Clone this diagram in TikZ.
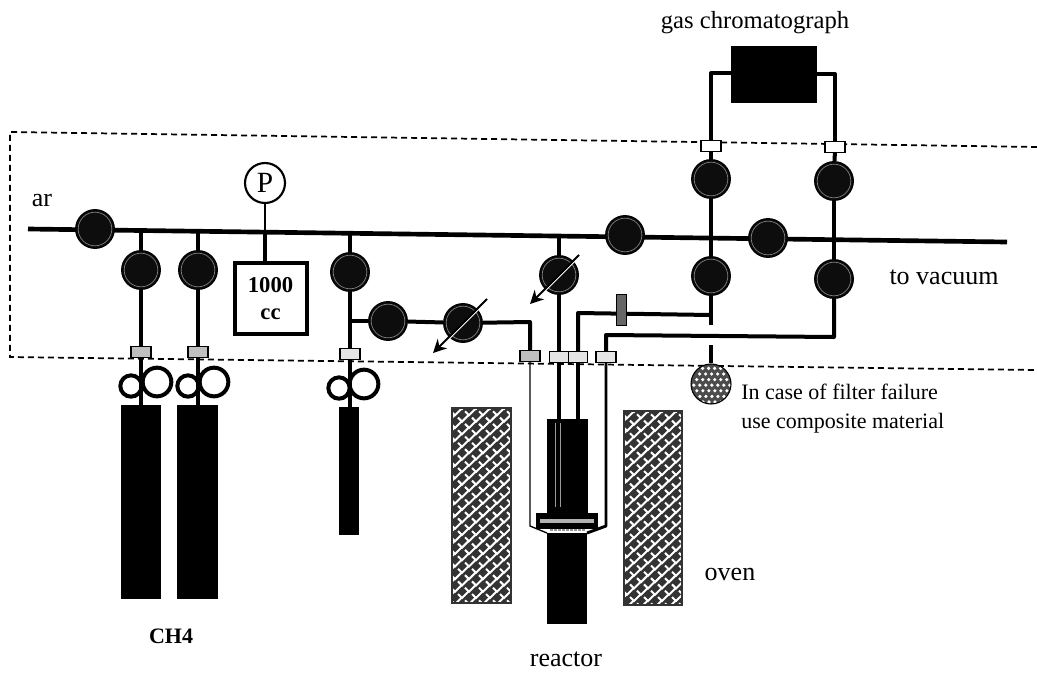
\documentclass[tikz,border=0pt]{standalone}
\usepackage{fontspec}
\setmainfont{Liberation Serif}
\usetikzlibrary{backgrounds,arrows.meta}
\tikzset{
 pipe/.style={draw=black,line width=3pt,line join=round},
 mainpipe/.style={draw=black,line width=3.5pt},
 thinpipe/.style={draw=black,line width=1pt},
 border/.style={draw=black,line width=1.3pt,dash pattern=on 4.5pt off 3pt},
 valve/.style={circle,fill=black!95,draw=black,line width=.9pt,minimum size=29pt,inner sep=0pt,
   path picture={\draw[black!50,line width=.5pt] (path picture bounding box.center) circle (12.6pt);}},
 fitting/.style={rectangle,draw=black,line width=1.1pt,fill=black!25,minimum width=15pt,minimum height=8pt,inner sep=0pt},
 regsmall/.style={circle,draw=black,line width=3pt,minimum size=16pt,inner sep=0pt},
 regbig/.style={circle,draw=black,line width=3pt,minimum size=21.5pt,inner sep=0pt},
 solid block/.style={rectangle,fill=black,draw=black,inner sep=0pt,anchor=north west},
 lbl/.style={font=\fontsize{19.5pt}{22pt}\selectfont,inner sep=0pt},
 smalllbl/.style={inner sep=0pt,anchor=west,font=\fontsize{16.5pt}{18pt}\selectfont},
 throughline/.style={draw=black,line width=1.5pt,-{Stealth[length=10pt,width=10pt]}},
 throughwhite/.style={draw=white,line width=.8pt},
}
% oven block with woven hatching: x1,y1,x2,y2
\newcommand{\ovenblock}[4]{%
 \begin{scope}
  \clip (#1,#2) rectangle (#3,#4);
  \fill[black!80] (#1,#2) rectangle (#3,#4);
  \foreach \r in {0,...,34}{
   \foreach \c in {0,...,6}{
    \pgfmathsetmacro{\px}{#1+\c*14+mod(\r,2)*7-4}
    \pgfmathsetmacro{\py}{#2+\r*6.3+1}
    \draw[white,line width=1.5pt,line cap=butt,line join=miter] (\px-4,\py-4) -- (\px,\py) -- (\px+7,\py-7);
   }
  }
 \end{scope}
 \draw[black!80,line width=1pt] (#1,#2) rectangle (#3,#4);
}
\begin{document}
\begin{tikzpicture}[x=0.75pt,y=-0.75pt]
\useasboundingbox (0,0) rectangle (1037,675);
\begin{scope}[on background layer]
\fill[white] (0,0) rectangle (1037,675);
\end{scope}

% enclosure (dashed)
\coordinate (bTR) at (1037,147);
\coordinate (bTL) at (10,132);
\coordinate (bBL) at (10,357);
\coordinate (bBR) at (1037,370);
\draw[border] (bTR) -- (bTL) -- (bBL) -- (bBR);

% main line end points and junctions
\coordinate (mainL) at (28,229);
\coordinate (mainR) at (1007,242);
\coordinate (j1) at (141,230.5);
\coordinate (j2) at (198,231);
\coordinate (jp) at (265,232);
\coordinate (j3) at (350,233);
\coordinate (j4) at (559,236);
\coordinate (j5) at (711,238);
\coordinate (j6) at (834,240);

% valves
\node[valve] (vAr) at (95,229) {};
\node[valve] (v1) at (141,270) {};
\node[valve] (v2) at (198,270) {};
\node[valve] (v3) at (350,272) {};
\node[valve] (v4) at (388,321) {};
\node[valve] (v5) at (463,323) {};
\node[valve] (v6) at (559,275) {};
\node[valve] (v7) at (625,235) {};
\node[valve] (v8) at (768,238) {};
\node[valve] (vGa) at (711,179) {};
\node[valve] (vGb) at (834,181) {};
\node[valve] (vLa) at (711,276) {};
\node[valve] (vLb) at (834,279) {};

% pressure gauge and vessel
\node[circle,draw=black,line width=1.6pt,fill=white,minimum size=30pt,inner sep=0pt,font=\fontsize{22pt}{24pt}\selectfont] (gauge) at (265,183) {P};
\node[rectangle,draw=black,line width=3pt,fill=white,minimum width=54pt,minimum height=53pt,inner sep=0pt,align=center,font=\fontsize{17pt}{20.5pt}\selectfont\bfseries] (vessel) at (270.5,298.5) {1000\\cc};

% gas chromatograph
\node[rectangle,fill=black,draw=black,minimum width=64pt,minimum height=42pt,inner sep=0pt] (gc) at (774,74.5) {};
\coordinate (gcL) at (711,73);
\coordinate (gcR) at (835,74);

% cylinders
\node[solid block,minimum width=29pt,minimum height=145pt] (cyl1) at (121,405) {};
\node[solid block,minimum width=30pt,minimum height=145pt] (cyl2) at (177,405) {};
\node[solid block,minimum width=14pt,minimum height=95pt] (cyl3) at (339,407) {};

% regulators
\node[regsmall] (r1a) at (131,386) {};
\node[regbig] (r1b) at (157,382) {};
\node[regsmall] (r2a) at (188,386) {};
\node[regbig] (r2b) at (214,382) {};
\node[regsmall] (r3a) at (339,388) {};
\node[regbig] (r3b) at (364,384) {};

% reactor
\node[solid block,minimum width=30pt,minimum height=72pt] (rTop) at (547,419) {};
\node[solid block,minimum width=29.5pt,minimum height=67.5pt] (rBot) at (547,533) {};
\coordinate (rBotNW) at (547,533);
\coordinate (rBotNE) at (587,533);
\node[rectangle,fill=black,draw=black,minimum width=46pt,minimum height=11pt,inner sep=0pt] (flange) at (567,521) {};
\fill[black!30] (540,519) rectangle (594,523);
\draw[black!40,line width=.6pt] (555,423) -- (555,507);
\draw[black!40,line width=.6pt] (560,423) -- (560,507);
\draw[black!40,line width=.8pt,dash pattern=on 2pt off 1pt] (550,530) -- (585,530);

% ovens
\ovenblock{452}{408}{511}{603}
\ovenblock{624}{411}{682}{605}

% fittings
\node[fitting] (f1) at (141,352) {};
\node[fitting] (f2) at (198,352) {};
\node[fitting,fill=black!10] (f3) at (350,354) {};
\node[fitting] (f4) at (530,356) {};
\node[fitting,minimum width=14pt,fill=black!10] (f5) at (559,357) {};
\node[fitting,minimum width=14pt,fill=black!10] (f6) at (578,357) {};
\node[fitting,fill=black!10] (f7) at (606,357) {};
\node[fitting,fill=white] (fG1) at (711,146) {};
\node[fitting,fill=white] (fG2) at (835,147) {};
\node[rectangle,draw=black,fill=black!60,line width=.6pt,minimum width=7.5pt,minimum height=23pt,inner sep=0pt] (fS) at (621,310) {};

% filter
\node[circle,draw=black,line width=.8pt,minimum size=30pt,inner sep=0pt,fill=black!70,
 path picture={
  \foreach \r in {0,...,6}{\foreach \c in {0,...,6}{
   \fill[white] (path picture bounding box.center) ++(-13.5pt+\c*4.5pt+\r*2.2pt-6pt,-13.5pt+\r*4.2pt) circle (1.35pt);}}
 }] (filter) at (711,384) {};

\begin{scope}[on background layer]
 \fill[white] (0,0) rectangle (1037,675);
 \draw[mainpipe] (mainL) -- (mainR);
 \draw[pipe] (j1) -- (v1);
 \draw[pipe] (v1) -- (f1) -- (cyl1.north -| f1);
 \draw[pipe] (j2) -- (v2);
 \draw[pipe] (v2) -- (f2) -- (cyl2.north -| f2);
 \draw[line width=1.6pt] (jp) -- (gauge);
 \draw[pipe] (jp) -- (vessel.north -| jp);
 \draw[pipe] (j3) -- (v3);
 \draw[pipe] (v3) -- (f3) -- (cyl3.north -| f3);
 \coordinate (t3) at (350,321);
 \draw[pipe] (t3) -- (v4);
 \draw[pipe] (v4) -- (v5);
 \coordinate (c5) at (530,322);
 \draw[pipe] (v5) -- (c5) -- (f4);
 \coordinate (thinTurn) at (530,526);
 \draw[thinpipe] (f4) -- (thinTurn) -- (rBotNW);
 \draw[pipe] (j4) -- (v6);
 \draw[pipe] (v6) -- (f5);
 \coordinate (rT1) at (559,425);
 \coordinate (rT2) at (578,425);
 \draw[pipe] (f5) -- (rT1);
 \coordinate (c6) at (578,313);
 \coordinate (e6) at (711,315);
 \draw[pipe] (f6) -- (rT2);
 \draw[pipe] (f6) -- (c6) -- (e6);
 \coordinate (stubEnd) at (711,325);
 \draw[pipe] (vLa) -- (stubEnd);
 \coordinate (c7) at (606,335);
 \coordinate (e7) at (834,337);
 \draw[pipe] (vLb) -- (e7) -- (c7) -- (f7);
 \coordinate (rightTurn) at (606,526);
 \draw[pipe,line width=2.2pt] (f7) -- (rightTurn) -- (rBotNE);
 \coordinate (stubTop) at (711,345);
 \draw[pipe] (stubTop) -- (filter);
 \draw[pipe] (j5) -- (vLa);
 \draw[pipe] (j5) -- (vGa);
 \draw[pipe] (vGa) -- (fG1);
 \draw[pipe] (fG1) -- (gcL) -- (gc.west |- gcL);
 \draw[pipe] (j6) -- (vLb);
 \draw[pipe] (j6) -- (vGb);
 \draw[pipe] (vGb) -- (fG2);
 \draw[pipe] (fG2) -- (gcR) -- (gc.east |- gcR);
\end{scope}

% adjustable valve arrows
\coordinate (a1s) at (579,255);
\coordinate (a1e) at (530,304);
\coordinate (a2s) at (487,299);
\coordinate (a2e) at (433,353);
\draw[throughwhite] (574,262) -- (545,291);
\draw[throughwhite] (478,310) -- (449,339);
\draw[throughline] (a1s) -- (a1e);
\draw[throughline] (a2s) -- (a2e);

% labels
\node[lbl,font=\fontsize{18.5pt}{22pt}\selectfont] (tGC) at (755,23) {gas chromatograph};
\node[lbl] (tAr) at (42,200) {ar};
\node[lbl] (tVac) at (944,277) {to vacuum};
\node[smalllbl] (tF1) at (741,392) {In case of filter failure};
\node[smalllbl] (tF2) at (741,423) {use composite material};
\node[lbl] (tOven) at (730,574) {oven};
\node[lbl] (tReac) at (566,659) {reactor};
\node[lbl,font=\fontsize{16.5pt}{18pt}\selectfont\bfseries] (tCH) at (171,636) {CH4};
\end{tikzpicture}
\end{document}
